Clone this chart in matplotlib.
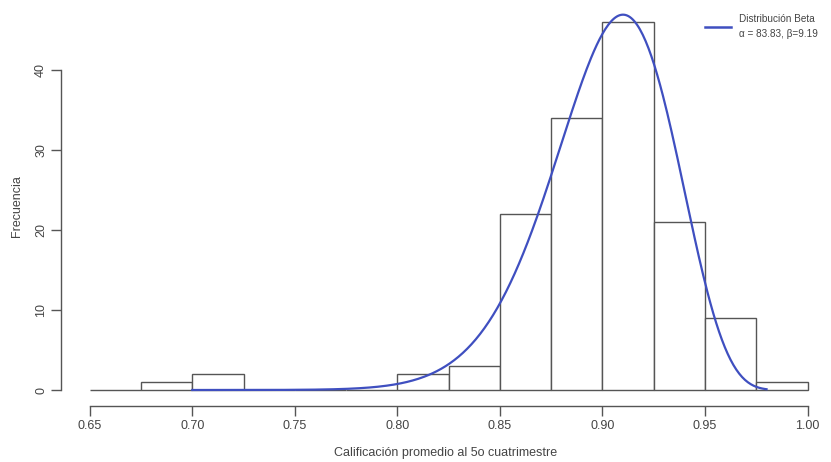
import math
import numpy as np
import matplotlib
matplotlib.use("Agg")
import matplotlib.pyplot as plt

plt.rcParams['font.family'] = ['Liberation Sans', 'DejaVu Sans']

# histogram data (bins of width 0.025)
bin_left = [0.650, 0.675, 0.700, 0.725, 0.750, 0.775, 0.800, 0.825,
            0.850, 0.875, 0.900, 0.925, 0.950, 0.975]
counts = [0, 1, 2, 0, 0, 0, 2, 3, 22, 34, 46, 21, 9, 1]
bin_width = 0.025

# fitted beta parameters
alpha = 83.83
beta = 9.19
curve_from, curve_to = 0.70, 0.98

xticks = [0.65, 0.70, 0.75, 0.80, 0.85, 0.90, 0.95, 1.00]
yticks = [0, 10, 20, 30, 40]

axis_col = '#555555'
text_col = '#444444'
blue = '#3f4fc0'

n_total = sum(counts)
xs = np.linspace(curve_from, curve_to, 400)
logB = math.lgamma(alpha) + math.lgamma(beta) - math.lgamma(alpha + beta)
dens = np.exp((alpha - 1) * np.log(xs) + (beta - 1) * np.log(1 - xs) - logB)
ys = dens * n_total * bin_width

W, H = 831, 462
fig = plt.figure(figsize=(W / 100, H / 100), dpi=100)
ax = fig.add_axes([61 / W, 56 / H, (W - 61) / W, 399 / H])

ax.bar(bin_left, counts, width=bin_width, align='edge', color='white',
       edgecolor=axis_col, linewidth=1.0, zorder=2)
ax.plot(xs, ys, color=blue, linewidth=1.6, zorder=3)

ax.set_xlim(0.636, 0.636 + 770 / 2051)
ax.set_ylim(-2, 47.875)

for s in ['top', 'right']:
    ax.spines[s].set_visible(False)
ax.spines['left'].set_bounds(0, 40)
ax.spines['bottom'].set_bounds(0.65, 1.00)
for s in ['left', 'bottom']:
    ax.spines[s].set_color(axis_col)
    ax.spines[s].set_linewidth(1.0)

ax.set_xticks(xticks)
ax.set_xticklabels(['%.2f' % v for v in xticks])
ax.set_yticks(yticks)
ax.set_yticklabels([str(v) for v in yticks], rotation=90, va='center')
ax.tick_params(colors=axis_col, labelcolor=text_col, labelsize=9,
               length=7, width=1.0, pad=3)

ax.set_xlabel('Calificación promedio al 5o cuatrimestre', color=text_col,
              fontsize=9, labelpad=11)
ax.set_ylabel('Frecuencia', color=text_col, fontsize=9, labelpad=9)

# legend
ax.plot([], [], color=blue, linewidth=1.8, label='Distribución Beta\nα = 83.83, β=9.19')
leg = ax.legend(loc='upper left', bbox_to_anchor=(705 / W, 1 - 14 / H),
                bbox_transform=fig.transFigure, frameon=False,
                fontsize=7.2, handlelength=2.6, handletextpad=0.8,
                borderaxespad=0, borderpad=0)
for t in leg.get_texts():
    t.set_color(text_col)
    t.set_linespacing(1.6)

fig.savefig('out.png', dpi=100, facecolor='white')
